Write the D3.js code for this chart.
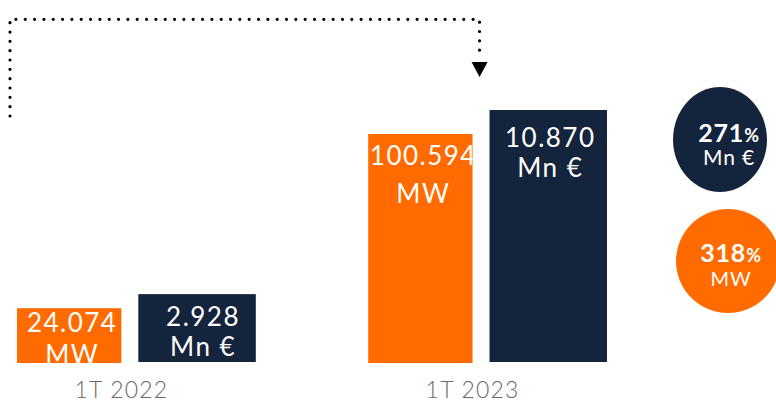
<!DOCTYPE html>
<html>
<head>
<meta charset="utf-8">
<script src="https://cdn.jsdelivr.net/npm/d3@7"></script>
<style>
  body { margin: 0; background: #fff; }
  text { font-family: "Lato", "Noto Sans", sans-serif; }
</style>
</head>
<body>
<script>
// Chart data
var periods = ["1T 2022", "1T 2023"];
var mwValues = [24.074, 100.594];
var eurValues = [2.928, 10.870];
var mwLabels = ["24.074", "100.594"];
var eurLabels = ["2.928", "10.870"];
var growthValues = ["271", "318"];
var growthUnits = ["Mn €", "MW"];

var orange = "#ff6b00";
var navy = "#15243d";

var svgWidth = 776;
var svgHeight = 402;

var svg = d3.select("body")
  .append("svg")
  .attr("width", svgWidth)
  .attr("height", svgHeight);

// x: one band per period
var xBand = d3.scaleBand()
  .domain(periods)
  .range([17, 607])
  .paddingInner(0.32);
var bw = xBand.bandwidth();

// two separate value scales (MW and Mn €)
var yMW = d3.scaleLinear().domain([0, 110]).range([363, 112.6]);
var yEUR = d3.scaleLinear().domain([0, 11]).range([362, 107]);

// label offsets below bar top: [first line, second line]
var mwLabelPos = [[24, 56], [31, 69]];
var eurLabelPos = [[32, 62], [37, 67]];

var mwX = function(i) { return xBand(periods[i]); };
var mwW = bw * 0.437;
var eurX = function(i) { return xBand(periods[i]) + bw * 0.508; };
var eurW = bw * 0.492;

// clip labels to their bars
var defs = svg.append("defs");

// MW bars
svg.selectAll("rect.mw")
  .data(mwValues)
  .enter().append("rect")
  .attr("class", "mw")
  .attr("x", (d, i) => mwX(i))
  .attr("width", mwW)
  .attr("y", d => yMW(d))
  .attr("height", d => yMW(0) - yMW(d))
  .attr("fill", orange);

// Mn € bars
svg.selectAll("rect.eur")
  .data(eurValues)
  .enter().append("rect")
  .attr("class", "eur")
  .attr("x", (d, i) => eurX(i))
  .attr("width", eurW)
  .attr("y", d => yEUR(d))
  .attr("height", d => yEUR(0) - yEUR(d))
  .attr("fill", navy);

function barLabel(id, x, w, top, bottom, cx, pos, line1, line2) {
  defs.append("clipPath").attr("id", id)
    .append("rect")
    .attr("x", x).attr("y", top)
    .attr("width", w).attr("height", bottom - top);
  var t = svg.append("text")
    .attr("clip-path", "url(#" + id + ")")
    .attr("text-anchor", "middle")
    .attr("fill", "#fff")
    .style("font-size", "26px")
    .style("letter-spacing", "1.5px");
  t.append("tspan").attr("x", cx).attr("y", top + pos[0]).text(line1);
  t.append("tspan").attr("x", cx).attr("y", top + pos[1]).text(line2);
}

mwValues.forEach(function(v, i) {
  barLabel("clip-mw-" + i, mwX(i), mwW, yMW(v), yMW(0),
    mwX(i) + mwW / 2 + 3, mwLabelPos[i], mwLabels[i], "MW");
});

eurValues.forEach(function(v, i) {
  barLabel("clip-eur-" + i, eurX(i), eurW, yEUR(v), yEUR(0),
    eurX(i) + eurW / 2 + (i === 0 ? 6 : 2), eurLabelPos[i], eurLabels[i], "Mn €");
});

// period labels
svg.selectAll("text.period")
  .data(periods)
  .enter().append("text")
  .attr("class", "period")
  .attr("x", d => xBand(d) + bw / 2 - 15)
  .attr("y", 398)
  .attr("text-anchor", "middle")
  .attr("fill", "#6a6a6a")
  .style("font-size", "23px")
  .style("font-weight", 300)
  .style("letter-spacing", "1.2px")
  .text(d => d);

// dotted arrow from 2022 to 2023
var arrowX = xBand(periods[1]) + mwW + 7;
var dotted = d3.path();
dotted.moveTo(10, 116);
dotted.lineTo(10, 19.3);
dotted.lineTo(arrowX, 19.3);
dotted.lineTo(arrowX, 55);
svg.append("path")
  .attr("d", dotted.toString())
  .attr("fill", "none")
  .attr("stroke", "#000")
  .attr("stroke-width", 3.2)
  .attr("stroke-linecap", "round")
  .attr("stroke-dasharray", "0 9.33");

svg.append("path")
  .attr("d", "M" + (arrowX - 8) + ",62L" + (arrowX + 8) + ",62L" + arrowX + ",77Z")
  .attr("fill", "#000");

// growth bubbles
var bubbles = [
  { cx: 720, cy: 139.5, rx: 47, ry: 52.5, fill: navy, tx: 729, y1: 142, y2: 165, unitSize: 21 },
  { cx: 728, cy: 261, rx: 52, ry: 52, fill: orange, tx: 731, y1: 262, y2: 286, unitSize: 20 }
];

bubbles.forEach(function(b, i) {
  svg.append("ellipse")
    .attr("cx", b.cx).attr("cy", b.cy)
    .attr("rx", b.rx).attr("ry", b.ry)
    .attr("fill", b.fill);
  var t = svg.append("text")
    .attr("x", b.tx).attr("y", b.y1)
    .attr("text-anchor", "middle")
    .attr("fill", "#fff")
    .style("font-weight", "bold")
    .style("font-size", "25px")
    .style("letter-spacing", "0.8px");
  t.append("tspan").text(growthValues[i]);
  t.append("tspan").style("font-size", "18px").text("%");
  svg.append("text")
    .attr("x", b.tx).attr("y", b.y2)
    .attr("text-anchor", "middle")
    .attr("fill", "#fff")
    .style("font-size", b.unitSize + "px")
    .style("letter-spacing", "0.8px")
    .text(growthUnits[i]);
});
</script>
</body>
</html>
